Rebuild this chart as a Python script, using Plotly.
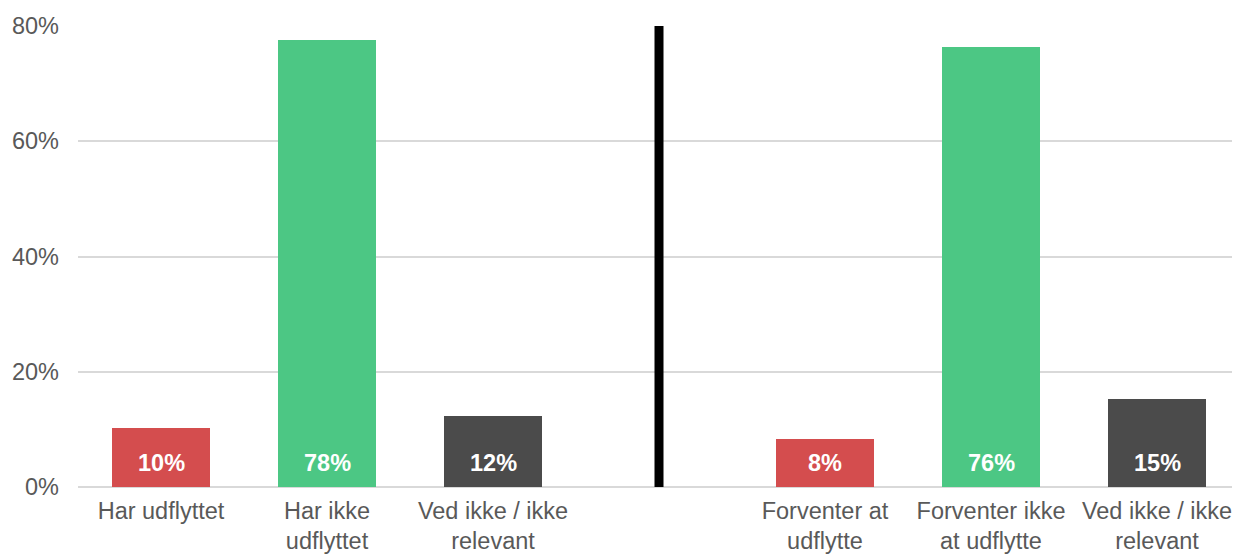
import plotly.graph_objects as go

left_labels = ["Har udflyttet", "Har ikke<br>udflyttet", "Ved ikke / ikke<br>relevant"]
left_values = [10.2, 77.6, 12.4]
right_labels = ["Forventer at<br>udflytte", "Forventer ikke<br>at udflytte", "Ved ikke / ikke<br>relevant"]
right_values = [8.3, 76.4, 15.3]
bar_colors = ["#d44d4e", "#4cc784", "#4b4b4b"]
y_ticks = [0, 20, 40, 60, 80]
y_ticktext = ["0%", "20%", "40%", "60%", "80%"]

n_left = len(left_values)
divider_pos = n_left
x_left = list(range(n_left))
x_right = [divider_pos + 1 + i for i in range(len(right_values))]
all_x = x_left + x_right
all_vals = left_values + right_values

font_family = "Liberation Sans, Arial, sans-serif"
fs = 23.5

fig = go.Figure()
fig.add_trace(go.Bar(
    x=all_x,
    y=all_vals,
    marker=dict(color=bar_colors + bar_colors, line=dict(width=0)),
    width=0.585,
    hoverinfo="skip",
    showlegend=False,
))
fig.add_trace(go.Scatter(
    x=[divider_pos, divider_pos],
    y=[y_ticks[0], y_ticks[-1]],
    mode="lines",
    line=dict(color="black", width=9),
    hoverinfo="skip",
    showlegend=False,
))
for xv, v in zip(all_x, all_vals):
    fig.add_annotation(
        x=xv, y=0, xref="x", yref="y",
        text=f"<b>{round(v)}%</b>",
        showarrow=False, yanchor="bottom", yshift=9,
        font=dict(family=font_family, size=fs, color="white"),
    )

# the page body adds an 8px offset; the figure is sized to fill the rest
fig.update_layout(
    width=1232, height=547,
    margin=dict(l=70, r=0, t=18, b=68),
    paper_bgcolor="white", plot_bgcolor="white",
    font=dict(family=font_family, size=fs, color="#595959"),
    bargap=0,
)
fig.update_xaxes(
    range=[-0.5, len(all_x) + 0.5],
    tickvals=all_x,
    ticktext=left_labels + right_labels,
    showgrid=False, zeroline=False, showline=False,
    ticks="", tickfont=dict(size=fs, color="#595959"),
    ticklabelstandoff=7,
    automargin=False,
)
fig.update_yaxes(
    range=[y_ticks[0], y_ticks[-1]],
    tickvals=y_ticks, ticktext=y_ticktext,
    showgrid=True, gridcolor="#d9d9d9", gridwidth=2,
    zeroline=True, zerolinecolor="#d9d9d9", zerolinewidth=2,
    showline=False, ticks="",
    tickfont=dict(size=fs, color="#595959"),
    ticklabelstandoff=18,
    automargin=False,
)

fig.write_html("out.html")
